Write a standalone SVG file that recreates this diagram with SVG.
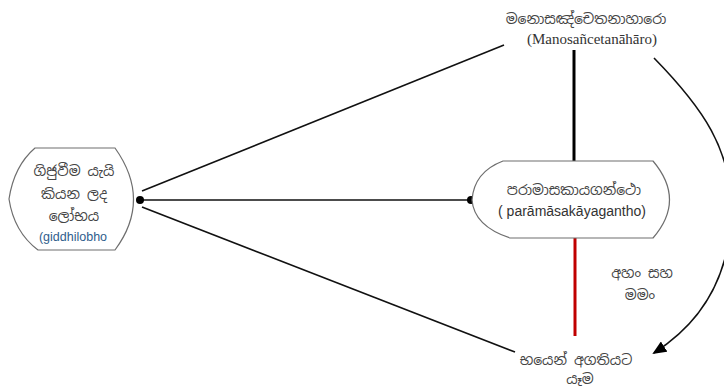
<svg xmlns="http://www.w3.org/2000/svg" width="724" height="392" viewBox="0 0 724 392">
<style>
.node{fill:#fff;stroke:#6e6e6e;stroke-width:1.2}
.si{font-family:"Noto Sans Sinhala","Noto Sans","DejaVu Sans",sans-serif;font-size:14px;fill:#444;text-anchor:middle}
.lat{font-family:"Liberation Sans",Arial,sans-serif;font-size:14px;fill:#333;text-anchor:middle}
.ser{font-family:"Liberation Serif","Times New Roman",serif;font-size:15px;fill:#333;text-anchor:middle}
.ln{stroke:#111;stroke-width:1.6;fill:none}
</style>
<defs>
<marker id="ah" markerWidth="14" markerHeight="12" refX="12" refY="6" orient="auto" markerUnits="userSpaceOnUse">
<path d="M0,0 L14,6 L0,12 Z" fill="#000"/>
</marker>
</defs>
<g id="connectors">
<line class="ln" x1="142" y1="191" x2="504" y2="45"/>
<line class="ln" x1="140" y1="200" x2="471" y2="200"/>
<line class="ln" x1="142" y1="207" x2="515" y2="352"/>
<line x1="574" y1="50" x2="574" y2="161" stroke="#000" stroke-width="3"/>
<line x1="575" y1="238" x2="575" y2="336" stroke="#c00000" stroke-width="3"/>
<path class="ln" d="M654,58 C700,105 735,150 731,220 C727,290 690,330 654,353" marker-end="url(#ah)"/>
<circle cx="140" cy="200" r="4" fill="#000"/>
<circle cx="471" cy="200" r="4" fill="#000"/>
</g>
<g id="node-lobha">
<path class="node" d="M35,148 L115,148 Q152,200 115,250 L38,250 Q14,232 9,199 Q14,166 35,148 Z"/>
<text class="si" x="74" y="176">ගිජුවීම යැයි</text>
<text class="si" x="74" y="199">කියන ලද</text>
<text class="si" x="74" y="221">ලෝභය</text>
<text class="lat" x="73" y="241" style="font-size:12.5px;fill:#2f5d8c">(giddhilobho</text>
</g>
<g id="node-top">
<text class="si" x="586" y="24">මනොසඤ්චෙතනාහාරො</text>
<text class="ser" x="592" y="44">(Manosañcetanāhāro)</text>
</g>
<g id="node-ganth">
<path class="node" d="M503,161 L653,161 Q686,200 653,238 L510,238 Q474,226 472,200 Q474,172 503,161 Z"/>
<text class="si" x="574" y="195">පරාමාසකායගන්ථො</text>
<text class="lat" x="572" y="216">( parāmāsakāyagantho)</text>
</g>
<g id="label-aham">
<text class="si" x="642" y="278">අහං සහ</text>
<text class="si" x="640" y="300">මමං</text>
</g>
<g id="node-bottom">
<text class="si" x="576" y="365">භයෙන් අගතියට</text>
<text class="si" x="580" y="384">යෑම</text>
</g>
</svg>
